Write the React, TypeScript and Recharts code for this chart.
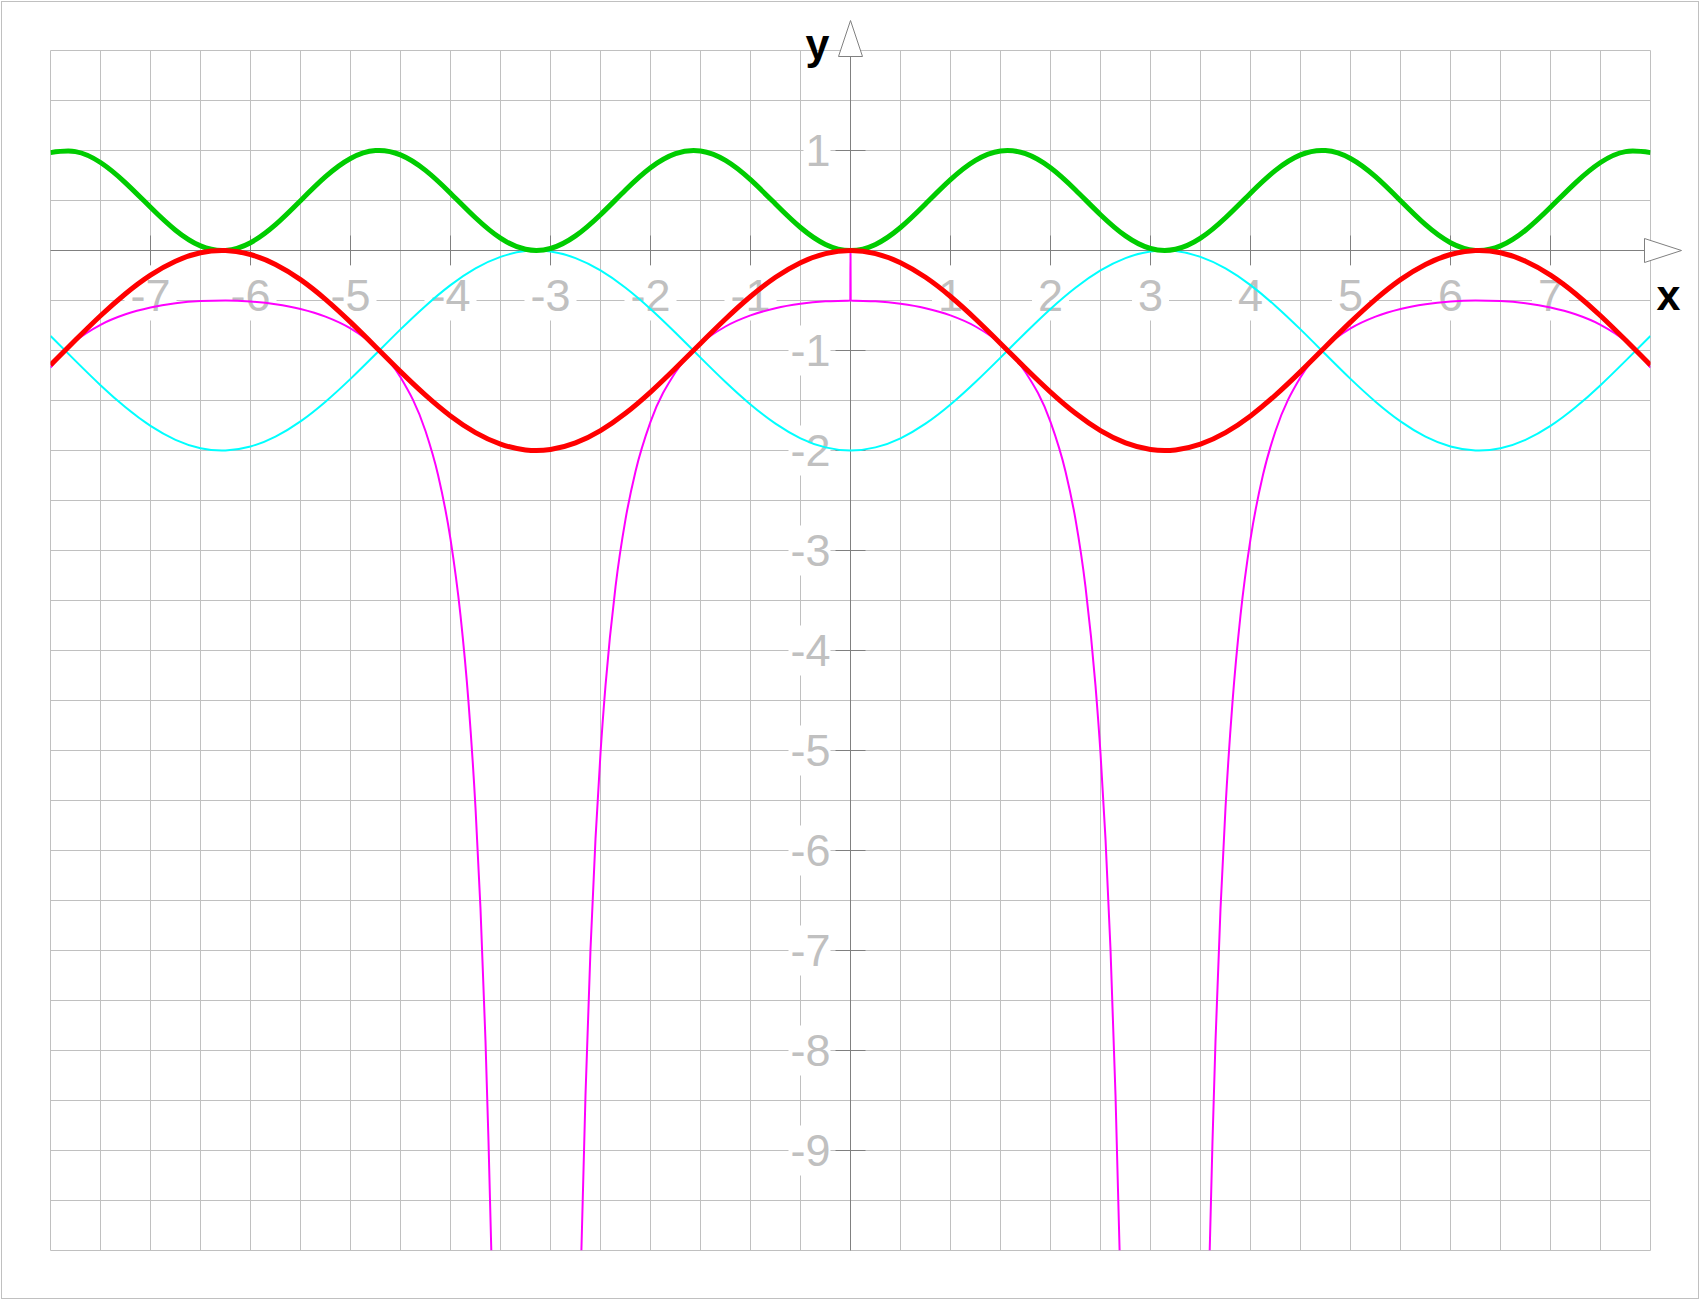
import React from 'react';
import { Line, LineChart, ReferenceDot, ReferenceLine, XAxis, YAxis } from 'recharts';

// x positions shared by the three periodic curves
const xSamples = [
  -8, -7.75, -7.5, -7.25, -7, -6.75, -6.5, -6.25, -6, -5.75, -5.5, -5.25, -5, -4.75, -4.5, -4.25,
  -4, -3.75, -3.5, -3.25, -3, -2.75, -2.5, -2.25, -2, -1.75, -1.5, -1.25, -1, -0.75, -0.5, -0.25,
  0, 0.25, 0.5, 0.75, 1, 1.25, 1.5, 1.75, 2, 2.25, 2.5, 2.75, 3, 3.25, 3.5, 3.75,
  4, 4.25, 4.5, 4.75, 5, 5.25, 5.5, 5.75, 6, 6.25, 6.5, 6.75, 7, 7.25, 7.5, 7.75, 8,
];

const greenValues = [
  0.979, 0.989, 0.88, 0.677, 0.432, 0.203, 0.046, 0.001, 0.078, 0.258, 0.498, 0.738, 0.92, 0.999, 0.956, 0.801,
  0.573, 0.327, 0.123, 0.012, 0.02, 0.146, 0.358, 0.605, 0.827, 0.968, 0.995, 0.901, 0.708, 0.465, 0.23, 0.061,
  0, 0.061, 0.23, 0.465, 0.708, 0.901, 0.995, 0.968, 0.827, 0.605, 0.358, 0.146, 0.02, 0.012, 0.123, 0.327,
  0.573, 0.801, 0.956, 0.999, 0.92, 0.738, 0.498, 0.258, 0.078, 0.001, 0.046, 0.203, 0.432, 0.677, 0.88, 0.989, 0.979,
];

const redValues = [
  -1.146, -0.896, -0.653, -0.432, -0.246, -0.107, -0.023, -0.001, -0.04, -0.139, -0.291, -0.488, -0.716, -0.962, -1.211, -1.446,
  -1.654, -1.821, -1.936, -1.994, -1.99, -1.924, -1.801, -1.628, -1.416, -1.178, -0.929, -0.685, -0.46, -0.268, -0.122, -0.031,
  0, -0.031, -0.122, -0.268, -0.46, -0.685, -0.929, -1.178, -1.416, -1.628, -1.801, -1.924, -1.99, -1.994, -1.936, -1.821,
  -1.654, -1.446, -1.211, -0.962, -0.716, -0.488, -0.291, -0.139, -0.04, -0.001, -0.023, -0.107, -0.246, -0.432, -0.653, -0.896, -1.146,
];

const cyanValues = [
  -0.854, -1.104, -1.347, -1.568, -1.754, -1.893, -1.977, -1.999, -1.96, -1.861, -1.709, -1.512, -1.284, -1.038, -0.789, -0.554,
  -0.346, -0.179, -0.064, -0.006, -0.01, -0.076, -0.199, -0.372, -0.584, -0.822, -1.071, -1.315, -1.54, -1.732, -1.878, -1.969,
  -2, -1.969, -1.878, -1.732, -1.54, -1.315, -1.071, -0.822, -0.584, -0.372, -0.199, -0.076, -0.01, -0.006, -0.064, -0.179,
  -0.346, -0.554, -0.789, -1.038, -1.284, -1.512, -1.709, -1.861, -1.96, -1.999, -1.977, -1.893, -1.754, -1.568, -1.347, -1.104, -0.854,
];

// magenta curve, three pieces between the drops
const magentaLeftX = [
  -8, -7.75, -7.5, -7.25, -7, -6.75, -6.5, -6.25, -6, -5.75, -5.5, -5.25, -5, -4.75, -4.5, -4.25,
  -4.125, -4, -3.9, -3.82, -3.75, -3.7, -3.65, -3.62, -3.592,
];
const magentaLeftY = [
  -1.17, -0.906, -0.743, -0.638, -0.57, -0.528, -0.506, -0.5, -0.51, -0.537, -0.585, -0.661, -0.779, -0.964, -1.267, -1.805,
  -2.243, -2.887, -3.649, -4.516, -5.573, -6.583, -7.906, -8.907, -10,
];
const magentaMidX = [
  -2.691, -2.65, -2.6, -2.55, -2.5, -2.45, -2.35, -2.25, -2.15, -2, -1.75, -1.5, -1.25, -1, -0.75, -0.5, -0.25, -0.002,
  0,
  0.002, 0.25, 0.5, 0.75, 1, 1.25, 1.5, 1.75, 2, 2.15, 2.25, 2.35, 2.45, 2.5, 2.55, 2.6, 2.65, 2.691,
];
const magentaMidY = [
  -10, -8.445, -6.988, -5.884, -5.028, -4.352, -3.364, -2.689, -2.209, -1.713, -1.217, -0.934, -0.76, -0.649, -0.577, -0.533, -0.508, -0.5,
  0,
  -0.5, -0.508, -0.533, -0.577, -0.649, -0.76, -0.934, -1.217, -1.713, -2.209, -2.689, -3.364, -4.352, -5.028, -5.884, -6.988, -8.445, -10,
];
const magentaRightX = [
  3.592, 3.62, 3.65, 3.7, 3.75, 3.82, 3.9, 4, 4.125, 4.25, 4.5, 4.75, 5, 5.25, 5.5, 5.75,
  6, 6.25, 6.5, 6.75, 7, 7.25, 7.5, 7.75, 8,
];
const magentaRightY = [
  -10, -8.907, -7.906, -6.583, -5.573, -4.516, -3.649, -2.887, -2.243, -1.805, -1.267, -0.964, -0.779, -0.661, -0.585, -0.537,
  -0.51, -0.5, -0.506, -0.528, -0.57, -0.638, -0.743, -0.906, -1.17,
];

const xTickLabels = [-7, -6, -5, -4, -3, -2, -1, 1, 2, 3, 4, 5, 6, 7];
const yTickLabels = [1, -1, -2, -3, -4, -5, -6, -7, -8, -9];

const X_MIN = -8;
const X_MAX = 8;
const Y_MIN = -10;
const Y_MAX = 2;
const GRID_STEP = 0.5;

const FONT = '"Liberation Sans", Arial, sans-serif';
const LABEL_SIZE = 45;
const GRID_COLOR = '#c0c0c0';
const AXIS_COLOR = '#808080';

const gridX: number[] = [];
for (let v = X_MIN; v <= X_MAX; v += GRID_STEP) gridX.push(v);
const gridY: number[] = [];
for (let v = Y_MIN; v <= Y_MAX; v += GRID_STEP) gridY.push(v);

const toPoints = (xs: number[], ys: number[]) => xs.map((x, i) => ({ x, y: ys[i] }));

const textWidth = (s: string, size: number) =>
  s.split('').reduce((w, ch) => w + (ch === '-' ? 0.333 : 0.556) * size, 0);

const XTick = ({ cx, cy, label }: { cx: number; cy: number; label: string }) => {
  const w = textWidth(label, LABEL_SIZE);
  return (
    <g>
      <line x1={cx} x2={cx} y1={cy - 15} y2={cy + 15} stroke={AXIS_COLOR} strokeWidth={1} />
      <rect x={cx - w / 2 - 6} y={cy + 15} width={w + 12} height={55} fill="#fff" />
      <text x={cx} y={cy + 60} textAnchor="middle" fontFamily={FONT} fontSize={LABEL_SIZE} fill={GRID_COLOR}>
        {label}
      </text>
    </g>
  );
};

const YTick = ({ cx, cy, label }: { cx: number; cy: number; label: string }) => {
  const w = textWidth(label, LABEL_SIZE);
  return (
    <g>
      <line x1={cx - 15} x2={cx + 15} y1={cy} y2={cy} stroke={AXIS_COLOR} strokeWidth={1} />
      <rect x={cx - 20 - w - 2} y={cy - 25} width={w + 2} height={50} fill="#fff" />
      <text x={cx - 20} y={cy + 15} textAnchor="end" fontFamily={FONT} fontSize={LABEL_SIZE} fill={GRID_COLOR}>
        {label}
      </text>
    </g>
  );
};

const XArrow = ({ cx, cy }: { cx: number; cy: number }) => (
  <g>
    <polygon
      points={`${cx - 6},${cy - 12} ${cx + 31},${cy} ${cx - 6},${cy + 12}`}
      fill="#fff"
      stroke={AXIS_COLOR}
      strokeWidth={1}
    />
    <text x={cx + 18} y={cy + 59} textAnchor="middle" fontFamily={FONT} fontWeight="bold" fontSize={43} fill="#000">
      x
    </text>
  </g>
);

const YArrow = ({ cx, cy }: { cx: number; cy: number }) => (
  <g>
    <polygon
      points={`${cx - 12},${cy + 6} ${cx},${cy - 30} ${cx + 12},${cy + 6}`}
      fill="#fff"
      stroke={AXIS_COLOR}
      strokeWidth={1}
    />
    <text x={cx - 33} y={cy + 8} textAnchor="middle" fontFamily={FONT} fontWeight="bold" fontSize={43} fill="#000">
      y
    </text>
  </g>
);

const curveProps = { dataKey: 'y', dot: false, activeDot: false, isAnimationActive: false } as const;

export default function App() {
  return (
    <div style={{ position: 'absolute', left: 0, top: 0, width: 1700, height: 1300, background: '#fff' }}>
      <div
        style={{
          position: 'absolute',
          left: 1,
          top: 1,
          width: 1698,
          height: 1298,
          border: `1px solid ${GRID_COLOR}`,
          boxSizing: 'border-box',
        }}
      />
      <div style={{ position: 'absolute', left: 0, top: 0 }}>
        <LineChart width={1700} height={1300} margin={{ top: 50.5, right: 49.5, bottom: 49.5, left: 50.5 }}>
          <XAxis type="number" dataKey="x" domain={[X_MIN, X_MAX]} hide allowDataOverflow />
          <YAxis type="number" domain={[Y_MIN, Y_MAX]} hide allowDataOverflow />

          {gridX.map(v => (
            <ReferenceLine key={`gx${v}`} x={v} stroke={GRID_COLOR} strokeWidth={1} zIndex={-90} />
          ))}
          {gridY.map(v => (
            <ReferenceLine key={`gy${v}`} y={v} stroke={GRID_COLOR} strokeWidth={1} zIndex={-90} />
          ))}

          <ReferenceLine x={0} stroke={AXIS_COLOR} strokeWidth={1} zIndex={-80} />
          <ReferenceLine y={0} stroke={AXIS_COLOR} strokeWidth={1} zIndex={-80} />

          {xTickLabels.map(v => (
            <ReferenceDot
              key={`tx${v}`}
              x={v}
              y={0}
              ifOverflow="visible"
              zIndex={-60}
              shape={(p: any) => <XTick cx={p.cx} cy={p.cy} label={String(v)} />}
            />
          ))}
          {yTickLabels.map(v => (
            <ReferenceDot
              key={`ty${v}`}
              x={0}
              y={v}
              ifOverflow="visible"
              zIndex={-60}
              shape={(p: any) => <YTick cx={p.cx} cy={p.cy} label={String(v)} />}
            />
          ))}

          <Line {...curveProps} data={toPoints(xSamples, cyanValues)} type="natural" stroke="#00ffff" strokeWidth={2} />
          <Line {...curveProps} data={toPoints(magentaLeftX, magentaLeftY)} type="monotone" stroke="#ff00ff" strokeWidth={2} />
          <Line {...curveProps} data={toPoints(magentaMidX, magentaMidY)} type="monotone" stroke="#ff00ff" strokeWidth={2} />
          <Line {...curveProps} data={toPoints(magentaRightX, magentaRightY)} type="monotone" stroke="#ff00ff" strokeWidth={2} />
          <Line {...curveProps} data={toPoints(xSamples, greenValues)} type="natural" stroke="#00cc00" strokeWidth={5} />
          <Line {...curveProps} data={toPoints(xSamples, redValues)} type="natural" stroke="#ff0000" strokeWidth={5} />

          <ReferenceDot
            x={X_MAX}
            y={0}
            ifOverflow="visible"
            shape={(p: any) => <XArrow cx={p.cx} cy={p.cy} />}
          />
          <ReferenceDot
            x={0}
            y={Y_MAX}
            ifOverflow="visible"
            shape={(p: any) => <YArrow cx={p.cx} cy={p.cy} />}
          />
        </LineChart>
      </div>
    </div>
  );
}
